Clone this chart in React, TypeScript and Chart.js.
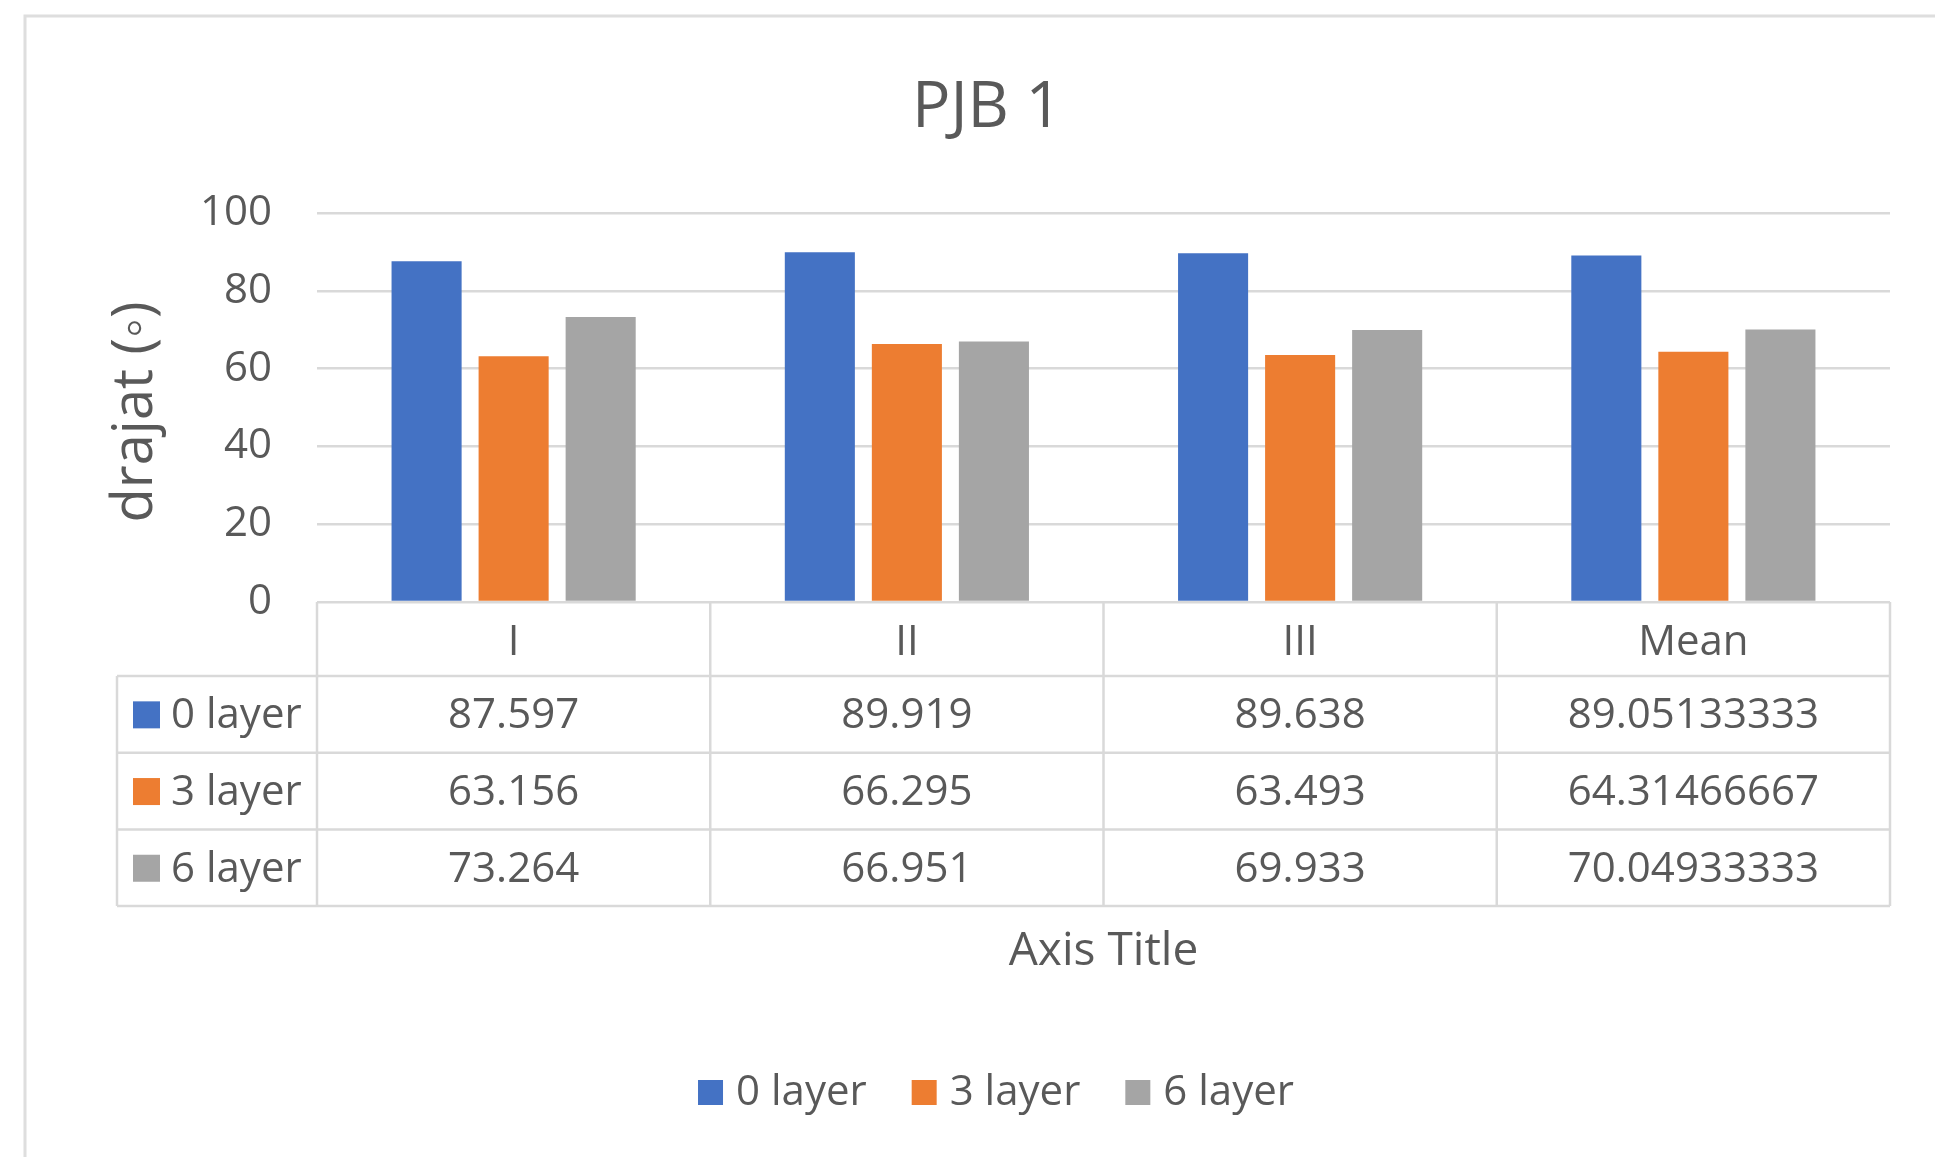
import React, { useEffect, useRef } from "react";
import { Chart, registerables } from "chart.js";

Chart.register(...registerables);

const categories = ["I", "II", "III", "Mean"];
const seriesNames = ["0 layer", "3 layer", "6 layer"];
const layer0 = [87.597, 89.919, 89.638, 89.05133333];
const layer3 = [63.156, 66.295, 63.493, 64.31466667];
const layer6 = [73.264, 66.951, 69.933, 70.04933333];
const tableText0 = ["87.597", "89.919", "89.638", "89.05133333"];
const tableText3 = ["63.156", "66.295", "63.493", "64.31466667"];
const tableText6 = ["73.264", "66.951", "69.933", "70.04933333"];
const colors = ["#4472C4", "#ED7D31", "#A5A5A5"];
const chartTitle = "PJB 1";
const yTitle = "drajat (◦)";
const xTitle = "Axis Title";

const FONT = "'Open Sans', 'Noto Sans', sans-serif";
const TEXT = "#595959";
const LINE = "#D9D9D9";

const extras = {
  id: "excelExtras",
  beforeDraw(chart: any) {
    const { ctx, width, height } = chart;
    ctx.save();
    ctx.fillStyle = "#ffffff";
    ctx.fillRect(0, 0, width, height);
    ctx.strokeStyle = "#DEDEDE";
    ctx.lineWidth = 3;
    ctx.strokeRect(25, 16, width + 20, height + 20);
    ctx.restore();
  },
  afterDraw(chart: any) {
    const { ctx, chartArea, scales } = chart;
    const xs = scales.x;
    const n = categories.length;
    const colW = (chartArea.right - chartArea.left) / n;
    const bounds: number[] = [];
    for (let i = 0; i < n; i++) bounds.push(xs.getPixelForValue(i) - colW / 2);
    bounds.push(xs.getPixelForValue(n - 1) + colW / 2);

    const top = chartArea.bottom;
    const headerH = 74;
    const rowH = 76.7;
    const legendLeft = 117;
    const rowsY = [top + headerH, top + headerH + rowH, top + headerH + 2 * rowH, top + headerH + 3 * rowH];
    const bottom = rowsY[3];

    ctx.save();
    ctx.strokeStyle = LINE;
    ctx.lineWidth = 2.5;
    ctx.beginPath();
    for (const b of bounds) {
      ctx.moveTo(b, top);
      ctx.lineTo(b, bottom);
    }
    ctx.moveTo(legendLeft, rowsY[0]);
    ctx.lineTo(legendLeft, bottom);
    for (const y of rowsY) {
      ctx.moveTo(legendLeft, y);
      ctx.lineTo(bounds[n], y);
    }
    ctx.stroke();

    ctx.fillStyle = TEXT;
    ctx.textAlign = "center";
    ctx.textBaseline = "middle";
    ctx.font = `42px ${FONT}`;
    for (let i = 0; i < n; i++) {
      ctx.fillText(categories[i], xs.getPixelForValue(i), top + headerH / 2 + 4);
    }
    const texts = [tableText0, tableText3, tableText6];
    for (let r = 0; r < 3; r++) {
      const cy = rowsY[r] + rowH / 2 + 2;
      ctx.textAlign = "center";
      ctx.fillStyle = TEXT;
      for (let i = 0; i < n; i++) {
        ctx.fillText(texts[r][i], xs.getPixelForValue(i), cy);
      }
      ctx.fillStyle = colors[r];
      ctx.fillRect(133, cy - 15, 27, 27);
      ctx.fillStyle = TEXT;
      ctx.textAlign = "left";
      ctx.fillText(seriesNames[r], 171, cy);
    }

    ctx.textAlign = "center";
    ctx.font = `46px ${FONT}`;
    ctx.fillText(xTitle, (chartArea.left + chartArea.right) / 2, 952);

    ctx.save();
    ctx.translate(136, 412);
    ctx.rotate(-Math.PI / 2);
    ctx.font = `56px ${FONT}`;
    ctx.fillText(yTitle, 0, 0);
    ctx.restore();

    ctx.font = `64px ${FONT}`;
    ctx.fillText(chartTitle, 987, 109);

    ctx.font = `42px ${FONT}`;
    const sw = 25, gap = 13, itemGap = 45;
    const widths = seriesNames.map((s) => ctx.measureText(s).width);
    const total = widths.reduce((a, w) => a + sw + gap + w, 0) + itemGap * (seriesNames.length - 1);
    let lx = 996 - total / 2;
    const ly = 1093;
    ctx.textAlign = "left";
    for (let i = 0; i < seriesNames.length; i++) {
      ctx.fillStyle = colors[i];
      ctx.fillRect(lx, ly - 13, sw, sw);
      ctx.fillStyle = TEXT;
      ctx.fillText(seriesNames[i], lx + sw + gap, ly);
      lx += sw + gap + widths[i] + itemGap;
    }
    ctx.restore();
  },
};

export default function App() {
  const ref = useRef<HTMLCanvasElement | null>(null);
  useEffect(() => {
    if (!ref.current) return;
    const chart = new Chart(ref.current, {
      type: "bar",
      data: {
        labels: categories,
        datasets: [layer0, layer3, layer6].map((d, i) => ({
          label: seriesNames[i],
          data: d,
          backgroundColor: colors[i],
          borderWidth: 0,
          barPercentage: 0.805,
          categoryPercentage: 0.664,
        })),
      },
      options: {
        animation: false,
        responsive: false,
        devicePixelRatio: 1,
        layout: { padding: { top: 213, bottom: 555, left: 0, right: 45 } },
        plugins: {
          legend: { display: false },
          title: { display: false },
          tooltip: { enabled: false },
        },
        scales: {
          x: { display: false },
          y: {
            min: 0,
            max: 100,
            ticks: {
              stepSize: 20,
              color: TEXT,
              font: { size: 42, family: FONT },
              padding: 45,
            },
            grid: { color: LINE, lineWidth: 2.5, drawTicks: false },
            border: { display: false },
            afterFit(scale: any) {
              scale.width = 317;
            },
          },
        },
      },
      plugins: [extras],
    });
    return () => chart.destroy();
  }, []);
  return (
    <div style={{ position: "absolute", left: 0, top: 0, width: 1935, height: 1157 }}>
      <canvas ref={ref} width={1935} height={1157} style={{ width: 1935, height: 1157, display: "block" }} />
    </div>
  );
}
